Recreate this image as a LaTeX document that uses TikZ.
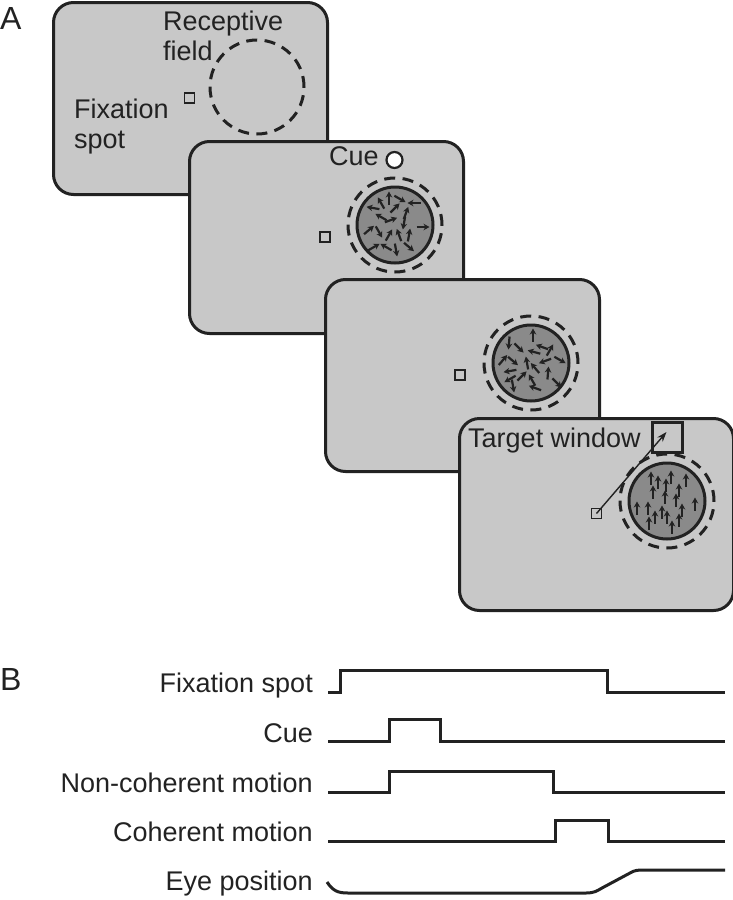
\documentclass[tikz,border=0pt]{standalone}
\usepackage{fontspec}
\setmainfont{Liberation Sans}
\usetikzlibrary{arrows.meta}

\definecolor{inkc}{HTML}{222222}
\definecolor{screenc}{HTML}{C8C8C8}
\definecolor{patchc}{HTML}{8A8A8A}

\tikzset{
  screen/.style={draw=inkc, fill=screenc, line width=3pt, rounded corners=20pt,
    minimum width=274pt, minimum height=192pt, anchor=north west, inner sep=0pt},
  fixsq/.style={draw=inkc, fill=screenc, line width=1.8pt, minimum size=10pt, inner sep=0pt},
  rfield/.style={circle, draw=inkc, line width=3pt, dash pattern=on 11pt off 7.4pt,
    minimum size=94pt, inner sep=0pt},
  patch/.style={circle, draw=inkc, fill=patchc, line width=3pt, minimum size=76pt, inner sep=0pt},
  mv/.style={-{Stealth[length=6pt,width=6.5pt]}, line width=2.2pt, draw=inkc},
  lbl/.style={font=\fontsize{27}{30}\selectfont, text=inkc, inner sep=0pt},
  panel/.style={font=\fontsize{32}{34}\selectfont, text=inkc, inner sep=0pt},
  trace/.style={line width=3pt, draw=inkc},
}

\begin{document}
\begin{tikzpicture}[x=1pt,y=-1pt]
\useasboundingbox (0,0) rectangle (733,900);

%%% A: the four screens
\node[panel, anchor=base west] (labA) at (0,29) {A};

% screen 1: fixation
\node[screen] (scr1) at (52,1) {};
\node[rfield] (rf1) at (257,87) {};
\node[fixsq] (fix1) at (189.5,98) {};
\node[lbl, align=left, anchor=north west] (rflab) at (163,11) {Receptive\\field};
\node[lbl, align=left, anchor=north west] (fixlab) at (74,99) {Fixation\\spot};

% screen 2: cue + noncoherent dots
\node[screen] (scr2) at (188,140) {};
\node[patch] (dots2) at (395,225) {};
\node[rfield] (rf2) at (395,225) {};
\node[fixsq] (fix2) at (325,237) {};
\node[circle, draw=inkc, fill=white, line width=2.2pt, minimum size=16pt, inner sep=0pt] (cue) at (394.5,160) {};
\node[lbl, anchor=base west] (cuelab) at (329,165) {Cue};
\begin{scope}[shift={(395,225)}]
\foreach \dx/\dy/\a in {-6/-27/90, -14/-22/120, 5/-26/-30, 19/-22/180, -22/-17/170,
    0/-17/45, -14/-8/150, -4/-5/20, 11/-12/70, 9/-2/-100, 28/2/0, -26/5/40,
    -16/7/-60, -6/10/60, 4/10/110, 14/10/80, -21/22/30, -9/22/150, 1/25/-80, 14/22/-40}
  \draw[mv] (\dx,\dy) ++(\a+180:6.5pt) -- ++(\a:13pt);
\end{scope}

% screen 3: noncoherent dots
\node[screen] (scr3) at (324,278) {};
\node[patch] (dots3) at (531,363) {};
\node[rfield] (rf3) at (531,363) {};
\node[fixsq] (fix3) at (460,375) {};
\begin{scope}[shift={(531,363)}]
\foreach \dx/\dy/\a in {2/-28/90, -22/-20/-95, -12/-15/-45, 3/-11/165, 11/-16/160,
    19/-13/60, -28/-3/50, -18/-2/-40, -4/0/100, 14/-2/200, 29/-3/-30, -21/8/190,
    -9/13/45, 4/5/130, 17/10/85, -21/16/210, -18/23/-80, 4/25/160, 26/20/-45, 1/17/120}
  \draw[mv] (\dx,\dy) ++(\a+180:6.5pt) -- ++(\a:13pt);
\end{scope}

% screen 4: coherent dots + saccade
\node[screen] (scr4) at (458,417) {};
\node[patch] (dots4) at (667,501) {};
\node[rfield] (rf4) at (667,501) {};
\node[fixsq] (fix4) at (596.5,513.5) {};
\node[draw=inkc, fill=screenc, line width=3pt, minimum size=30pt, inner sep=0pt] (tw) at (667.5,437) {};
\node[lbl, anchor=base west] (twlab) at (468,447) {Target window};
\begin{scope}[shift={(667,501)}]
\foreach \dx/\dy in {-16/-23, -9/-19, -1/-16, 4/-24, 19/-21, 12/-11, -14/-9, -2/-4,
    9/-1, 28/3, -30/7, -19/7, -5/11, 15/9, -12/16, 0/16, -18/22, 12/19, 5/26}
  \draw[mv] (\dx,\dy) ++(0,6.5) -- ++(0,-13);
\end{scope}
\draw[-{Stealth[length=10pt,width=7pt]}, line width=1.4pt, draw=inkc] (fix4.center) -- ([xshift=-1pt,yshift=5pt]tw.center);

%%% B: time course
\node[panel, anchor=base west] (labB) at (0,690) {B};

\node[lbl, anchor=base east] (tfix) at (313,692) {Fixation spot};
\draw[trace] (328,692) -- (340,692) -- (340,670) -- (607,670) -- (607,692) -- (725,692);

\node[lbl, anchor=base east] (tcue) at (313,742) {Cue};
\draw[trace] (328,741) -- (389,741) -- (389,719) -- (440,719) -- (440,741) -- (725,741);

\node[lbl, anchor=base east] (tnon) at (313,792) {Non-coherent motion};
\draw[trace] (328,792) -- (389,792) -- (389,771) -- (553,771) -- (553,792) -- (725,792);

\node[lbl, anchor=base east] (tcoh) at (313,841) {Coherent motion};
\draw[trace] (328,841) -- (555,841) -- (555,820) -- (608,820) -- (608,841) -- (725,841);

\node[lbl, anchor=base east] (teye) at (313,890) {Eye position};
\draw[trace] (327,882) .. controls (333,891) and (338,893) .. (348,893) -- (586,893)
  .. controls (594,893) and (597,891) .. (602,888) -- (630,873)
  .. controls (635,870) and (638,870) .. (645,870) -- (725,870);
\end{tikzpicture}
\end{document}
